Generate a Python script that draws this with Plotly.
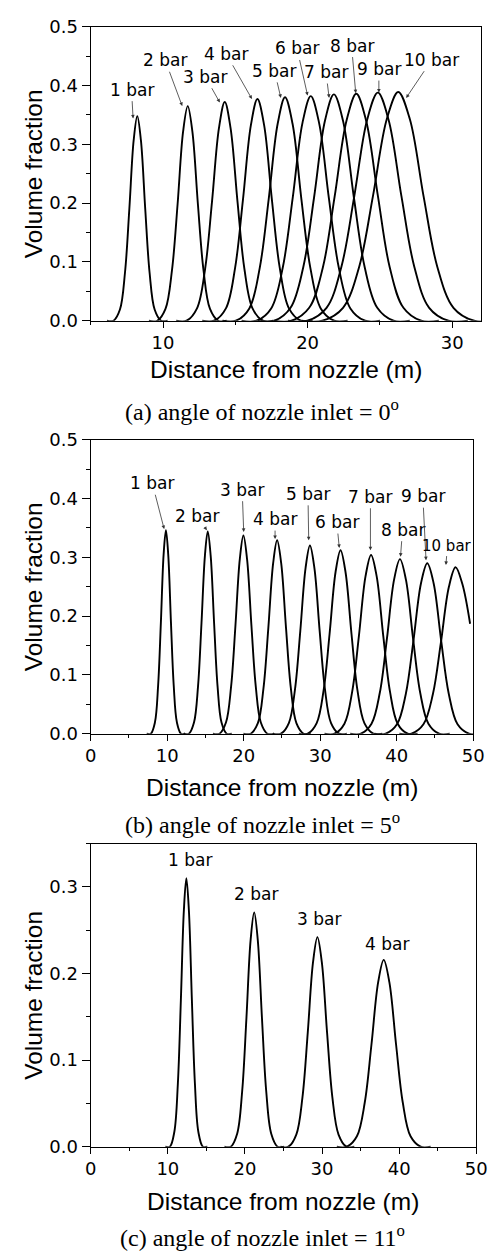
import plotly.graph_objects as go

# ---------------- data ----------------
bar_labels_a = ["1 bar", "2 bar", "3 bar", "4 bar", "5 bar", "6 bar", "7 bar", "8 bar", "9 bar", "10 bar"]
a_x = [
    [6.12, 6.57, 7.02, 7.37, 7.67, 7.97, 8.22, 8.47, 8.77, 9.07, 9.42, 9.87, 10.32],
    [9.02, 9.60, 10.17, 10.62, 11.01, 11.39, 11.71, 12.03, 12.41, 12.80, 13.25, 13.82, 14.40],
    [10.91, 11.63, 12.35, 12.91, 13.39, 13.87, 14.27, 14.67, 15.15, 15.63, 16.19, 16.91, 17.63],
    [12.71, 13.53, 14.35, 14.98, 15.53, 16.08, 16.53, 16.99, 17.53, 18.08, 18.71, 19.53, 20.35],
    [14.11, 15.04, 15.97, 16.69, 17.31, 17.93, 18.44, 18.96, 19.57, 20.19, 20.91, 21.84, 22.77],
    [15.43, 16.46, 17.48, 18.28, 18.97, 19.65, 20.22, 20.79, 21.47, 22.16, 22.96, 23.98, 25.01],
    [16.57, 17.70, 18.82, 19.70, 20.45, 21.20, 21.82, 22.45, 23.20, 23.95, 24.82, 25.95, 27.07],
    [17.66, 18.88, 20.11, 21.06, 21.87, 22.69, 23.37, 24.05, 24.87, 25.68, 26.63, 27.86, 29.08],
    [18.64, 19.98, 21.31, 22.34, 23.23, 24.12, 24.86, 25.60, 26.49, 27.38, 28.41, 29.74, 31.08],
    [19.59, 21.02, 22.45, 23.57, 24.52, 25.48, 26.27, 27.07, 28.02, 28.97, 30.09, 31.52, 32.95],
]
a_y = [
    [0, 0, 0.019, 0.082, 0.190, 0.307, 0.348, 0.307, 0.190, 0.082, 0.019, 0, 0],
    [0, 0, 0.020, 0.086, 0.199, 0.322, 0.365, 0.322, 0.199, 0.086, 0.020, 0, 0],
    [0, 0, 0.021, 0.088, 0.203, 0.328, 0.372, 0.328, 0.203, 0.088, 0.021, 0, 0],
    [0, 0, 0.021, 0.089, 0.206, 0.333, 0.377, 0.333, 0.206, 0.089, 0.021, 0, 0],
    [0, 0, 0.021, 0.090, 0.207, 0.335, 0.380, 0.335, 0.207, 0.090, 0.021, 0, 0],
    [0, 0, 0.021, 0.090, 0.209, 0.337, 0.382, 0.337, 0.209, 0.090, 0.021, 0, 0],
    [0, 0, 0.022, 0.091, 0.210, 0.340, 0.385, 0.340, 0.210, 0.091, 0.022, 0, 0],
    [0, 0, 0.022, 0.091, 0.211, 0.340, 0.386, 0.340, 0.211, 0.091, 0.022, 0, 0],
    [0, 0, 0.022, 0.092, 0.212, 0.342, 0.388, 0.342, 0.212, 0.092, 0.022, 0, 0],
    [0, 0, 0.022, 0.092, 0.212, 0.343, 0.389, 0.343, 0.212, 0.092, 0.022, 0, 0],
]
a_text_x = [7.82, 10.15, 12.93, 14.37, 17.71, 19.27, 21.27, 23.04, 24.93, 28.60]
a_text_y = [0.393, 0.443, 0.415, 0.454, 0.425, 0.463, 0.423, 0.468, 0.428, 0.444]
a_head_x = [7.93, 11.33, 13.93, 16.15, 18.15, 20.00, 21.49, 23.33, 24.93, 26.82]
a_head_y = [0.344, 0.365, 0.371, 0.377, 0.379, 0.383, 0.379, 0.387, 0.388, 0.379]

bar_labels_b = ["1 bar", "2 bar", "3 bar", "4 bar", "5 bar", "6 bar", "7 bar", "8 bar", "9 bar", "10 bar"]
b_x = [
    [7.31, 7.85, 8.39, 8.81, 9.17, 9.53, 9.83, 10.13, 10.49, 10.85, 11.27, 11.81, 12.35],
    [12.15, 12.83, 13.50, 14.03, 14.48, 14.93, 15.30, 15.68, 16.13, 16.58, 17.10, 17.78, 18.45],
    [15.97, 16.83, 17.68, 18.35, 18.92, 19.49, 19.96, 20.44, 21.01, 21.58, 22.24, 23.10, 23.95],
    [19.96, 20.91, 21.85, 22.59, 23.22, 23.85, 24.37, 24.90, 25.53, 26.16, 26.89, 27.84, 28.78],
    [23.83, 24.87, 25.90, 26.71, 27.40, 28.09, 28.66, 29.24, 29.93, 30.62, 31.42, 32.46, 33.49],
    [27.20, 28.37, 29.54, 30.45, 31.23, 32.01, 32.66, 33.31, 34.09, 34.87, 35.78, 36.95, 38.12],
    [30.56, 31.87, 33.17, 34.19, 35.06, 35.93, 36.65, 37.38, 38.25, 39.12, 40.13, 41.44, 42.74],
    [33.92, 35.32, 36.71, 37.80, 38.73, 39.66, 40.43, 41.21, 42.14, 43.07, 44.15, 45.55, 46.94],
    [37.07, 38.56, 40.04, 41.20, 42.19, 43.18, 44.00, 44.83, 45.82, 46.81, 47.96, 49.45, 50.93],
    [40.35, 41.93, 43.50, 44.73, 45.78, 46.83, 47.70, 48.58, 49.60],
]
b_y = [
    [0, 0, 0.019, 0.082, 0.189, 0.305, 0.346, 0.305, 0.189, 0.082, 0.019, 0, 0],
    [0, 0, 0.019, 0.081, 0.188, 0.303, 0.344, 0.303, 0.188, 0.081, 0.019, 0, 0],
    [0, 0, 0.019, 0.080, 0.184, 0.297, 0.337, 0.297, 0.184, 0.080, 0.019, 0, 0],
    [0, 0, 0.018, 0.078, 0.180, 0.290, 0.329, 0.290, 0.180, 0.078, 0.018, 0, 0],
    [0, 0, 0.018, 0.076, 0.175, 0.282, 0.320, 0.282, 0.175, 0.076, 0.018, 0, 0],
    [0, 0, 0.018, 0.074, 0.170, 0.275, 0.312, 0.275, 0.170, 0.074, 0.018, 0, 0],
    [0, 0, 0.017, 0.072, 0.166, 0.268, 0.304, 0.268, 0.166, 0.072, 0.017, 0, 0],
    [0, 0, 0.017, 0.070, 0.162, 0.262, 0.297, 0.262, 0.162, 0.070, 0.017, 0, 0],
    [0, 0, 0.016, 0.068, 0.158, 0.256, 0.290, 0.256, 0.158, 0.068, 0.016, 0, 0],
    [0, 0, 0.016, 0.067, 0.155, 0.250, 0.283, 0.255, 0.187],
]
b_text_x = [8.05, 13.92, 19.80, 24.10, 28.40, 32.17, 36.57, 40.77, 43.42, 46.64]
b_text_y = [0.426, 0.371, 0.415, 0.365, 0.408, 0.360, 0.403, 0.347, 0.404, 0.320]
b_head_x = [9.60, 15.18, 20.00, 24.10, 28.50, 32.50, 36.57, 40.50, 43.84, 46.44]
b_head_y = [0.348, 0.346, 0.343, 0.331, 0.329, 0.316, 0.312, 0.301, 0.295, 0.287]

bar_labels_c = ["1 bar", "2 bar", "3 bar", "4 bar"]
c_x = [
    [9.67, 10.26, 10.84, 11.30, 11.69, 12.08, 12.40, 12.73, 13.12, 13.51, 13.96, 14.55, 15.13],
    [17.34, 18.16, 18.99, 19.64, 20.19, 20.74, 21.20, 21.66, 22.21, 22.76, 23.41, 24.24, 25.06],
    [24.61, 25.64, 26.66, 27.46, 28.15, 28.83, 29.40, 29.97, 30.65, 31.34, 32.14, 33.16, 34.19],
    [31.91, 33.22, 34.52, 35.54, 36.41, 37.28, 38.00, 38.73, 39.60, 40.47, 41.48, 42.79, 44.09],
]
c_y = [
    [0, 0, 0.017, 0.073, 0.169, 0.273, 0.310, 0.273, 0.169, 0.073, 0.017, 0, 0],
    [0, 0, 0.015, 0.064, 0.148, 0.239, 0.2705, 0.239, 0.148, 0.064, 0.015, 0, 0],
    [0, 0, 0.014, 0.057, 0.132, 0.213, 0.242, 0.213, 0.132, 0.057, 0.014, 0, 0],
    [0, 0, 0.012, 0.051, 0.118, 0.190, 0.2157, 0.190, 0.118, 0.051, 0.012, 0, 0],
]
c_text_x = [12.9, 21.4, 29.6, 38.4]
c_text_y = [0.3305, 0.2915, 0.2625, 0.2335]

captions = ["(a) angle of nozzle inlet = 0<sup>o</sup>",
            "(b) angle of nozzle inlet = 5<sup>o</sup>",
            "(c) angle of nozzle inlet = 11<sup>o</sup>"]
x_title = "Distance from nozzle (m)"
y_title = "Volume fraction"

# ---------------- figure ----------------
W, H = 503, 1257
fig = go.Figure()

def add_curves(xs, ys, xa, ya):
    for xv, yv in zip(xs, ys):
        fig.add_trace(go.Scatter(x=xv, y=yv, mode="lines", xaxis=xa, yaxis=ya,
                                 line=dict(color="black", width=1.9, shape="spline", smoothing=1.0),
                                 showlegend=False, hoverinfo="skip"))

add_curves(a_x, a_y, "x", "y")
add_curves(b_x, b_y, "x2", "y2")
add_curves(c_x, c_y, "x3", "y3")

tickfont = dict(family="DejaVu Sans", size=18, color="black")

def xaxis(dom, rng, anchor, dtick):
    return dict(domain=dom, range=rng, anchor=anchor, dtick=dtick, tick0=0,
                showline=True, linecolor="black", linewidth=1.3, mirror=True,
                ticks="outside", ticklen=6, tickwidth=1.2, tickcolor="black",
                minor=dict(dtick=dtick / 2, tick0=0, ticks="outside", ticklen=3, tickcolor="black", tickwidth=1.2),
                showgrid=False, zeroline=False, tickfont=tickfont)

def yaxis(dom, rng, anchor):
    return dict(domain=dom, range=rng, anchor=anchor, dtick=0.1, tick0=0, tickformat=".1f",
                showline=True, linecolor="black", linewidth=1.3, mirror=True,
                ticks="outside", ticklen=8, tickwidth=1.2, tickcolor="black",
                minor=dict(dtick=0.05, tick0=0, ticks="outside", ticklen=4, tickcolor="black", tickwidth=1.2),
                showgrid=False, zeroline=False, tickfont=tickfont)

L = 87.7 / W
fig.update_layout(
    width=W, height=H, margin=dict(l=0, r=0, t=0, b=0),
    paper_bgcolor="white", plot_bgcolor="white",
    xaxis=xaxis([L, 491.7 / W], [5, 32], "y", 10),
    yaxis=yaxis([1 - 315 / H, 1 - 16 / H], [0, 0.5], "x"),
    xaxis2=xaxis([L, 483.5 / W], [0, 50], "y2", 10),
    yaxis2=yaxis([1 - 735 / H, 1 - 436 / H], [0, 0.5], "x2"),
    xaxis3=xaxis([L, 486.7 / W], [0, 50], "y3", 10),
    yaxis3=yaxis([1 - 1155 / H, 1 - 846.7 / H], [0, 0.35], "x3"),
)

ann = []
labfont = dict(family="DejaVu Sans", size=17, color="black")

def arrows(labels, tx, ty, hx, hy, xr, yr, small_last=False):
    for i, lab in enumerate(labels):
        f = dict(labfont)
        if small_last and i == len(labels) - 1:
            f["size"] = 15
        ann.append(dict(text=lab, x=hx[i], y=hy[i], ax=tx[i], ay=ty[i], xref=xr, yref=yr,
                        axref=xr, ayref=yr, showarrow=True, arrowhead=2, arrowsize=0.9,
                        arrowwidth=0.8, arrowcolor="#333333", standoff=0, font=f))

arrows(bar_labels_a, a_text_x, a_text_y, a_head_x, a_head_y, "x", "y")
arrows(bar_labels_b, b_text_x, b_text_y, b_head_x, b_head_y, "x2", "y2", small_last=True)
for i, lab in enumerate(bar_labels_c):
    ann.append(dict(text=lab, x=c_text_x[i], y=c_text_y[i], xref="x3", yref="y3",
                    showarrow=False, font=labfont))

titlefont = dict(family="Liberation Sans, Arial", size=24.5, color="black")
capfont = dict(family="Liberation Serif, Times New Roman", size=24, color="black")
panels = [(289.7, 365, 406, 165.5), (285.6, 790, 826, 585.5), (287.2, 1211, 1246, 1001)]
for (cx, ty, cy, ymid), cap in zip(panels, captions):
    ann.append(dict(text=x_title, x=cx / W, y=1 - ty / H, xref="paper", yref="paper",
                    xanchor="center", yanchor="middle", showarrow=False, font=titlefont))
    ann.append(dict(text=cap, x=265 / W, y=1 - cy / H, xref="paper", yref="paper",
                    xanchor="center", yanchor="middle", showarrow=False, font=capfont))
    ann.append(dict(text=y_title, x=28.5 / W, y=1 - ymid / H, xref="paper", yref="paper",
                    xanchor="center", yanchor="middle", textangle=-90, showarrow=False, font=titlefont))

fig.update_layout(annotations=ann)
fig.write_html("out.html")
